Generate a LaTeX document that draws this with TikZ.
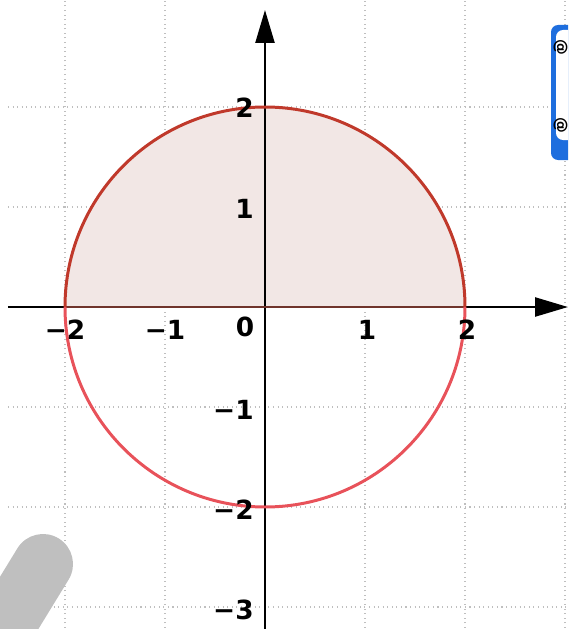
\documentclass[tikz,border=0pt]{standalone}
\usepackage{fontspec}
\setmainfont{DejaVu Sans}
\usetikzlibrary{arrows.meta}
\definecolor{arcDark}{RGB}{192,57,43}
\definecolor{arcLight}{RGB}{232,82,90}
\definecolor{halfFill}{RGB}{242,231,229}
\definecolor{rimBrown}{RGB}{112,52,44}
\definecolor{badgeBlue}{RGB}{30,110,222}

\begin{document}
\begin{tikzpicture}[x=2cm,y=2cm,
    gridline/.style={gray!50, dotted, line width=0.6pt},
    axis/.style={line width=1.4pt, black,
      -{Triangle[length=0.66cm,width=0.38cm]}},
    tick/.style={font=\fontsize{15}{17}\selectfont\bfseries, inner sep=0pt}
  ]
  \useasboundingbox (-2.65,-3.22) rectangle (3.03,3.07);
  \clip (-2.65,-3.22) rectangle (3.03,3.07);
  % grid
  \foreach \k in {-2,-1,1,2,3} \draw[gridline] (\k,-3.3) -- (\k,3.1);
  \foreach \k in {-3,-2,-1,1,2} \draw[gridline] (-2.57,\k) -- (3.1,\k);
  % upper half disc
  \fill[halfFill] (-2,0) arc[start angle=180,end angle=0,radius=2] -- cycle;
  % axes
  \coordinate (xstart) at (-2.57,0);
  \coordinate (xend) at (3.03,0);
  \coordinate (ystart) at (0,-3.3);
  \coordinate (yend) at (0,2.97);
  \draw[axis] (xstart) -- (xend);
  \draw[axis] (ystart) -- (yend);
  % circle x^2+y^2=4
  \coordinate (left) at (-2,0);
  \coordinate (right) at (2,0);
  \draw[rimBrown, line width=1.4pt] (left) -- (right);
  \draw[arcDark, line width=1.7pt] (left) arc[start angle=180,end angle=0,radius=2];
  \draw[arcLight, line width=1.7pt] (left) arc[start angle=180,end angle=360,radius=2];
  % tick labels
  \node[tick] (xm2) at (-2,-0.23) {−2};
  \node[tick] (xm1) at (-1,-0.23) {−1};
  \node[tick] (orig) at (-0.2,-0.2) {0};
  \node[tick] (x1) at (1.02,-0.23) {1};
  \node[tick] (x2) at (2.02,-0.23) {2};
  \node[tick, anchor=east] (y2) at (-0.11,1.99) {2};
  \node[tick, anchor=east] (y1) at (-0.11,0.98) {1};
  \node[tick, anchor=east] (ym1) at (-0.11,-1.03) {−1};
  \node[tick, anchor=east] (ym2) at (-0.11,-2.03) {−2};
  \node[tick, anchor=east] (ym3) at (-0.11,-3.03) {−3};
  % overlays
  \draw[gray!50, line width=1.2cm, line cap=round] (-2.22,-2.57) -- (-2.82,-3.55);
  \fill[badgeBlue, rounded corners=4pt] (2.86,2.82) rectangle (3.4,1.47);
  \fill[white, rounded corners=4pt] (2.91,2.77) rectangle (3.4,1.67);
  \node[rotate=-90, font=\fontsize{9}{10}\selectfont\bfseries, inner sep=0pt]
    (badge1) at (2.955,2.6) {@};
  \node[rotate=-90, font=\fontsize{9}{10}\selectfont\bfseries, inner sep=0pt]
    (badge2) at (2.955,1.82) {@};
\end{tikzpicture}
\end{document}
